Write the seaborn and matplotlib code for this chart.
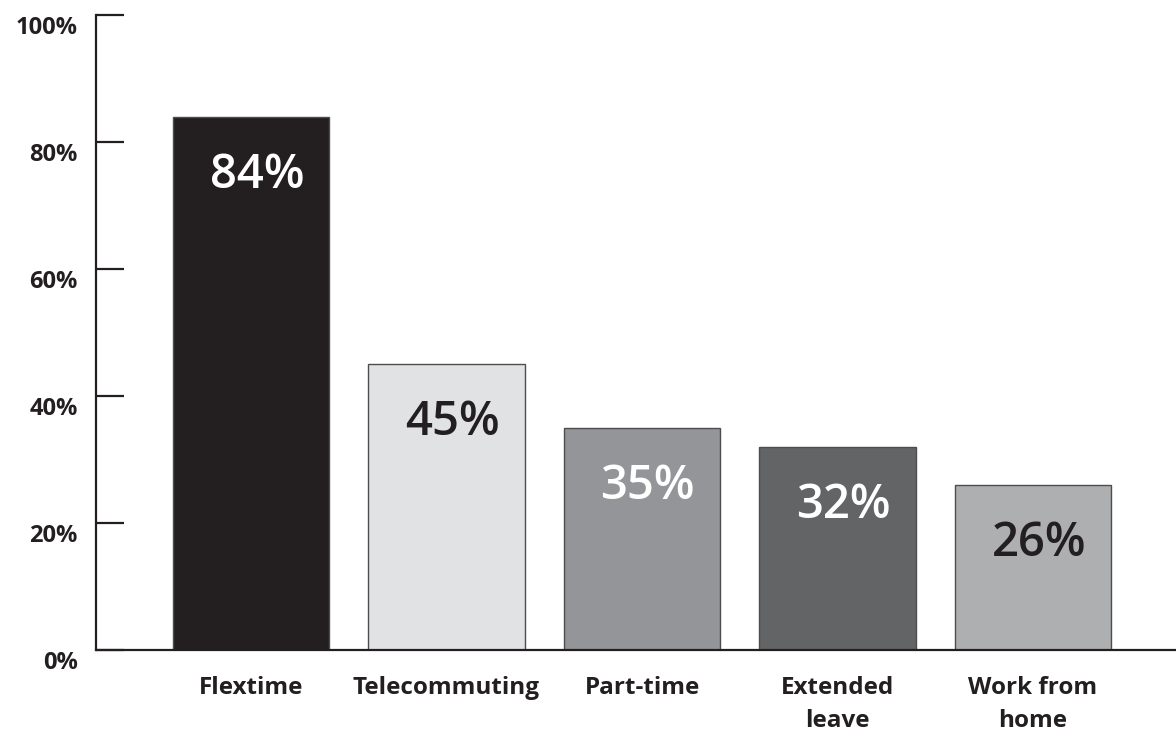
import matplotlib
matplotlib.use("Agg")
import matplotlib.pyplot as plt
import matplotlib.transforms as mtransforms
import seaborn as sns

# Chart data
categories = ['Flextime', 'Telecommuting', 'Part-time', 'Extended\nleave', 'Work from\nhome']
values = [84, 45, 35, 32, 26]
bar_colors = ['#231f20', '#e1e2e4', '#939598', '#636466', '#adafb1']
label_colors = ['white', '#231f20', 'white', 'white', '#231f20']
y_ticks = [0, 20, 40, 60, 80, 100]
y_tick_labels = ['0%', '20%', '40%', '60%', '80%', '100%']

sns.set_style('white')
plt.rcParams['font.family'] = ['Open Sans', 'DejaVu Sans']
ink = '#231f20'

fig = plt.figure(figsize=(11.76, 7.33), dpi=100)
ax = fig.add_axes([0.0816, 0.1132, 0.9175, 0.8663])

sns.barplot(x=categories, y=values, hue=categories, palette=bar_colors, legend=False,
            width=0.798, edgecolor='#4d4d4f', linewidth=1.0, saturation=1, ax=ax)

ax.set_xlim(-0.793, 4.726)
ax.set_ylim(0, 100)
ax.set_xlabel('')
ax.set_ylabel('')

# value labels inside the bars
for i, (v, c) in enumerate(zip(values, label_colors)):
    ax.text(i + 0.03, v - 9.2, f'{v}%', ha='center', va='center',
            fontsize=34, color=c, fontweight='semibold')

# axes styling
sns.despine(ax=ax, top=True, right=True)
for side in ['left', 'bottom']:
    ax.spines[side].set_color(ink)
    ax.spines[side].set_linewidth(1.6)

ax.set_yticks(y_ticks)
ax.set_yticklabels(y_tick_labels, fontsize=17, fontweight='bold', color=ink)
ax.tick_params(axis='y', direction='in', length=20, width=1.6, color=ink, pad=13, left=True)
ax.tick_params(axis='x', length=0, pad=19)
for lbl in ax.get_xticklabels():
    lbl.set_fontsize(17.5)
    lbl.set_fontweight('bold')
    lbl.set_color(ink)
    lbl.set_linespacing(1.45)

# the tick labels sit a bit below their ticks in the original
shift = mtransforms.ScaledTranslation(0, -10 / 100, fig.dpi_scale_trans)
for lbl in ax.get_yticklabels():
    lbl.set_transform(lbl.get_transform() + shift)

fig.savefig('out.png', dpi=100, facecolor='white')
